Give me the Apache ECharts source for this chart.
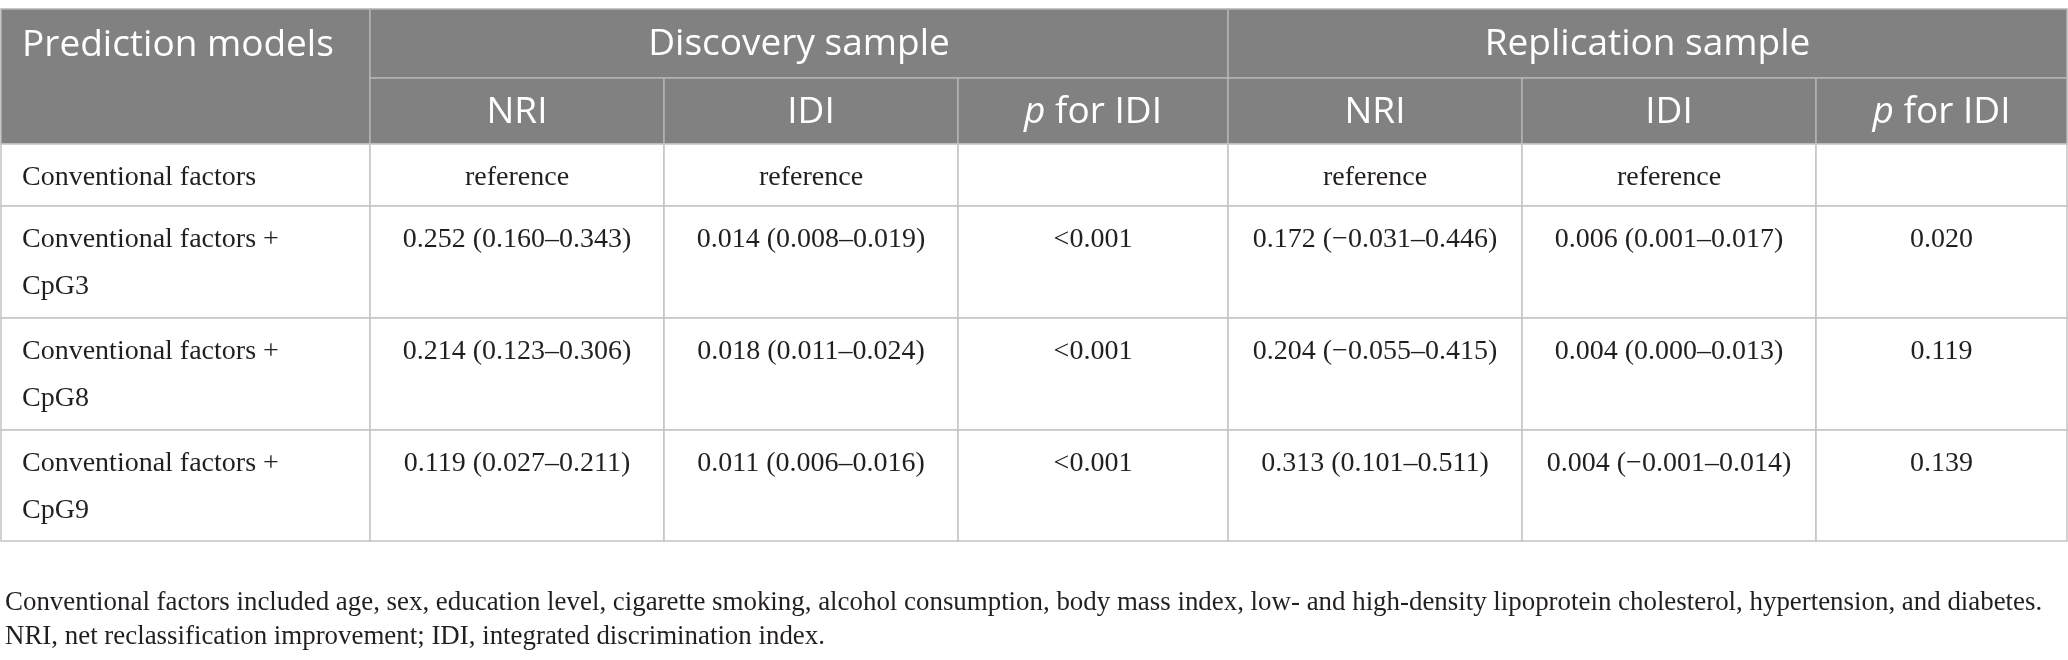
<!DOCTYPE html>
<html>
<head>
<meta charset="utf-8">
<script src="https://cdn.jsdelivr.net/npm/echarts@6/dist/echarts.min.js"></script>
<style>
html,body{margin:0;padding:0;background:#fff;}
#chart{width:2068px;height:660px;}
</style>
</head>
<body>
<div id="chart"></div>
<script>
// ---- data ----
const modelLabels = ['Conventional factors', 'Conventional factors + CpG3', 'Conventional factors + CpG8', 'Conventional factors + CpG9'];
const sampleGroups = ['Discovery sample', 'Replication sample'];
const metricHeaders = ['NRI', 'IDI', 'p for IDI'];
const cornerHeader = 'Prediction models';
const discoveryNRI = ['reference', '0.252 (0.160–0.343)', '0.214 (0.123–0.306)', '0.119 (0.027–0.211)'];
const discoveryIDI = ['reference', '0.014 (0.008–0.019)', '0.018 (0.011–0.024)', '0.011 (0.006–0.016)'];
const discoveryP = ['', '<0.001', '<0.001', '<0.001'];
const replicationNRI = ['reference', '0.172 (−0.031–0.446)', '0.204 (−0.055–0.415)', '0.313 (0.101–0.511)'];
const replicationIDI = ['reference', '0.006 (0.001–0.017)', '0.004 (0.000–0.013)', '0.004 (−0.001–0.014)'];
const replicationP = ['', '0.020', '0.119', '0.139'];
const footnoteLines = [
  'Conventional factors included age, sex, education level, cigarette smoking, alcohol consumption, body mass index, low- and high-density lipoprotein cholesterol, hypertension, and diabetes.',
  'NRI, net reclassification improvement; IDI, integrated discrimination index.'
];

// ---- layout (sizes only) ----
const colWidths = [369, 294, 294, 270, 294, 294, 251];
const rowHeights = [69, 66, 62, 112, 112, 111];
const colEdges = [0]; colWidths.forEach(w => colEdges.push(colEdges[colEdges.length - 1] + w));
const rowEdges = [0]; rowHeights.forEach(h => rowEdges.push(rowEdges[rowEdges.length - 1] + h));

// ---- build cells ----
const cells = [];
const meta = [];
function addCell(c0, c1, r0, r1, text, kind) {
  cells.push([colEdges[c0], colEdges[c1], rowEdges[r0], rowEdges[r1]]);
  meta.push({ text: text, kind: kind });
}
addCell(0, 1, 0, 2, cornerHeader, 'corner');
addCell(1, 4, 0, 1, sampleGroups[0], 'head');
addCell(4, 7, 0, 1, sampleGroups[1], 'head');
for (let g = 0; g < 2; g++) {
  metricHeaders.forEach((h, k) => addCell(1 + g * 3 + k, 2 + g * 3 + k, 1, 2, h, 'head'));
}
const columns = [discoveryNRI, discoveryIDI, discoveryP, replicationNRI, replicationIDI, replicationP];
modelLabels.forEach((lab, i) => {
  addCell(0, 1, 2 + i, 3 + i, lab.replace(' + ', ' +\n'), 'model');
  columns.forEach((col, j) => addCell(1 + j, 2 + j, 2 + i, 3 + i, col[i], 'body'));
});

const HEAD_FILL = '#808180';
const LINE = '#c4c4c4';
const HEAD_LINE = '#b4b4b4';
const SANS = '"Open Sans", "Noto Sans", sans-serif';
const SERIF = '"Liberation Serif", "DejaVu Serif", serif';
const HEAD_SIZE = 37;

function renderItem(params, api) {
  const m = meta[params.dataIndex];
  const a = api.coord([api.value(0), api.value(2)]);
  const b = api.coord([api.value(1), api.value(3)]);
  const x = a[0], y = a[1], w = b[0] - a[0], h = b[1] - a[1];
  const isHead = m.kind === 'head' || m.kind === 'corner';
  const rect = {
    type: 'rect',
    shape: { x: x, y: y, width: w, height: h },
    style: { fill: isHead ? HEAD_FILL : '#ffffff', stroke: isHead ? HEAD_LINE : LINE, lineWidth: 1.5 }
  };
  let txt;
  if (isHead) {
    const isP = m.text.indexOf('p for') === 0;
    const tx = m.kind === 'corner' ? x + 21 : x + w / 2;
    const ty = m.kind === 'corner' ? y + 36 : y + h / 2 + 1;
    txt = {
      type: 'text',
      x: tx, y: ty,
      style: {
        text: isP ? '{i|p} for IDI' : m.text,
        fill: '#ffffff',
        fontSize: HEAD_SIZE, fontFamily: SANS, fontWeight: 400,
        align: m.kind === 'corner' ? 'left' : 'center',
        textAlign: m.kind === 'corner' ? 'left' : 'center',
        verticalAlign: 'middle', textVerticalAlign: 'middle',
        rich: { i: { fontStyle: 'italic', fontSize: HEAD_SIZE, fontFamily: SANS, fontWeight: 400, fill: '#ffffff' } }
      }
    };
  } else {
    const left = m.kind === 'model';
    txt = {
      type: 'text',
      x: left ? x + 21 : x + w / 2,
      y: y + 10.5,
      style: {
        text: m.text,
        fill: '#231f20',
        fontSize: 28, fontFamily: SERIF,
        lineHeight: 47,
        align: left ? 'left' : 'center',
        textAlign: left ? 'left' : 'center',
        verticalAlign: 'top', textVerticalAlign: 'top'
      }
    };
  }
  return { type: 'group', children: [rect, txt] };
}

const chart = echarts.init(document.getElementById('chart'), null, { renderer: 'canvas' });
chart.setOption({
  animation: false,
  backgroundColor: '#ffffff',
  title: {
    text: footnoteLines.join('\n'),
    left: 0, top: 581,
    textStyle: { fontFamily: SERIF, fontSize: 26.9, fontWeight: 'normal', color: '#231f20', lineHeight: 34 }
  },
  grid: { left: 1, top: 9, width: colEdges[colEdges.length - 1], height: rowEdges[rowEdges.length - 1] },
  xAxis: { type: 'value', min: 0, max: colEdges[colEdges.length - 1], show: false },
  yAxis: { type: 'value', min: 0, max: rowEdges[rowEdges.length - 1], inverse: true, show: false },
  series: [{
    type: 'custom',
    renderItem: renderItem,
    encode: { x: [0, 1], y: [2, 3] },
    data: cells,
    silent: true
  }]
});
</script>
</body>
</html>
